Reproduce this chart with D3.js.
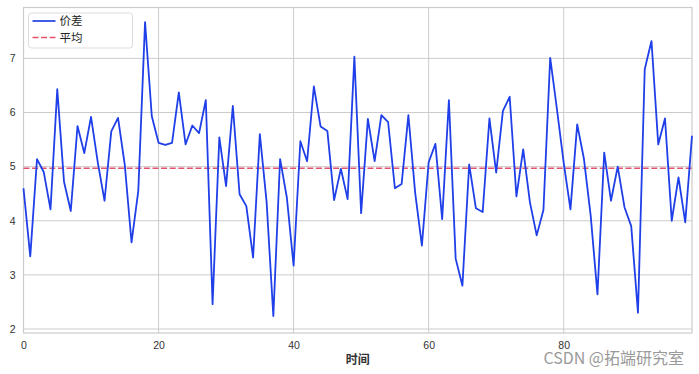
<!DOCTYPE html>
<html>
<head>
<meta charset="utf-8">
<script src="https://cdn.jsdelivr.net/npm/d3@7"></script>
<style>
  body { margin: 0; background: #fff; }
  svg { display: block; }
  .tick text { font-family: "Liberation Sans", Arial, sans-serif; font-size: 10.5px; fill: #333; }
</style>
</head>
<body>
<svg id="chart" width="699" height="374"></svg>
<script>
// Chart data
const spreadValues = [
  4.6, 3.34, 5.14, 4.9, 4.21, 6.43, 4.72, 4.18, 5.75, 5.25,
  5.92, 5.08, 4.37, 5.65, 5.9, 5.03, 3.6, 4.55, 7.67, 5.93,
  5.44, 5.4, 5.44, 6.37, 5.41, 5.76, 5.62, 6.23, 2.46, 5.54,
  4.64, 6.12, 4.49, 4.27, 3.32, 5.6, 4.35, 2.24, 5.14, 4.43,
  3.17, 5.47, 5.1, 6.48, 5.74, 5.66, 4.38, 4.96, 4.4, 7.03,
  4.14, 5.88, 5.1, 5.95, 5.82, 4.6, 4.68, 5.95, 4.52, 3.54,
  5.08, 5.42, 4.03, 6.23, 3.3, 2.8, 5.04, 4.23, 4.16, 5.89,
  4.89, 6.03, 6.29, 4.45, 5.32, 4.34, 3.73, 4.2, 7.01, 6.06,
  5.07, 4.21, 5.78, 5.14, 4.09, 2.64, 5.26, 4.37, 5.0, 4.25,
  3.9, 2.3, 6.8, 7.32, 5.41, 5.89, 4.0, 4.8, 3.97, 5.57
];
const meanValue = 4.97;
const xTicks = [0, 20, 40, 60, 80];
const yTicks = [2, 3, 4, 5, 6, 7];
const legendLabels = ["价差", "平均"];
const xLabel = "时间";
const watermark = "CSDN @拓端研究室";

const svg = d3.select("#chart");
const margin = { top: 7.5, right: 7, bottom: 41, left: 23.5 };
const width = +svg.attr("width") - margin.left - margin.right;
const height = +svg.attr("height") - margin.top - margin.bottom;
const g = svg.append("g")
  .attr("transform", "translate(" + margin.left + "," + margin.top + ")");

const x = d3.scaleLinear().domain([0, spreadValues.length - 1]).range([0, width]);
const y = d3.scaleLinear().domain([1.926, 7.94]).range([height, 0]);

// grid
g.append("g").selectAll("line").data(xTicks).join("line")
  .attr("x1", d => x(d)).attr("x2", d => x(d))
  .attr("y1", 0).attr("y2", height)
  .attr("stroke", "#cccccc").attr("stroke-width", 1);
g.append("g").selectAll("line").data(yTicks).join("line")
  .attr("x1", 0).attr("x2", width)
  .attr("y1", d => y(d)).attr("y2", d => y(d))
  .attr("stroke", "#cccccc").attr("stroke-width", 1);

// axes (labels only, seaborn style)
const xAxis = g.append("g")
  .attr("transform", "translate(0," + height + ")")
  .call(d3.axisBottom(x).tickValues(xTicks).tickFormat(d3.format("d")).tickSize(0).tickPadding(9));
xAxis.select(".domain").remove();
const yAxis = g.append("g")
  .call(d3.axisLeft(y).tickValues(yTicks).tickFormat(d3.format("d")).tickSize(0).tickPadding(8));
yAxis.select(".domain").remove();

// frame
g.append("rect")
  .attr("width", width).attr("height", height)
  .attr("fill", "none").attr("stroke", "#cccccc").attr("stroke-width", 1.2);

// mean line
g.append("line")
  .attr("x1", 0).attr("x2", width)
  .attr("y1", y(meanValue)).attr("y2", y(meanValue))
  .attr("stroke", "#e5526b").attr("stroke-width", 1.7)
  .attr("stroke-dasharray", "6,2.6");

// spread line
const line = d3.line().x((d, i) => x(i)).y(d => y(d));
g.append("path").datum(spreadValues)
  .attr("d", line)
  .attr("fill", "none")
  .attr("stroke", "#1f3fe8")
  .attr("stroke-width", 1.8)
  .attr("stroke-linejoin", "round");

// legend
const legend = g.append("g").attr("transform", "translate(5,5.5)");
legend.append("rect")
  .attr("width", 104).attr("height", 35).attr("rx", 3)
  .attr("fill", "#fff").attr("fill-opacity", 0.8)
  .attr("stroke", "#dddddd").attr("stroke-width", 1);
const items = legend.selectAll("g.item").data(legendLabels).join("g")
  .attr("class", "item")
  .attr("transform", (d, i) => "translate(0," + (8 + i * 16.5) + ")");
items.append("line")
  .attr("x1", 4).attr("x2", 27)
  .attr("stroke", (d, i) => i === 0 ? "#1f3fe8" : "#e5526b")
  .attr("stroke-width", 1.7)
  .attr("stroke-dasharray", (d, i) => i === 0 ? null : "6,2.6");
items.append("text")
  .attr("x", 31).attr("dy", "0.36em")
  .attr("font-family", "Noto Sans CJK SC")
  .attr("font-size", 11.5).attr("fill", "#222")
  .text(d => d);

// x label
svg.append("text")
  .attr("x", margin.left + width / 2).attr("y", 364)
  .attr("text-anchor", "middle")
  .attr("font-family", "Noto Sans CJK SC").attr("font-weight", "bold")
  .attr("font-size", 12).attr("fill", "#333")
  .text(xLabel);

// watermark
svg.append("text")
  .attr("x", 684).attr("y", 364)
  .attr("text-anchor", "end")
  .attr("font-family", "Noto Sans CJK SC")
  .attr("font-size", 16).attr("fill", "#9a9a9a")
  .attr("stroke", "#fff").attr("stroke-width", 0.6).attr("paint-order", "stroke")
  .text(watermark);
</script>
</body>
</html>
